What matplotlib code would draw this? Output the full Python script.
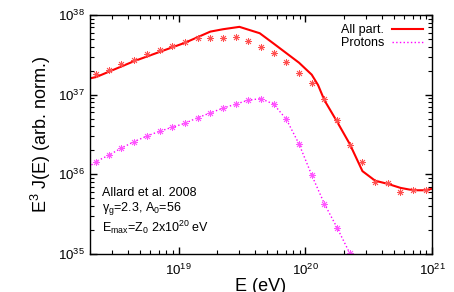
import numpy as np
import matplotlib
matplotlib.use('Agg')
import matplotlib.pyplot as plt
from matplotlib.ticker import LogLocator, NullFormatter

plt.rcParams['font.family'] = ['Liberation Sans', 'DejaVu Sans']
plt.rcParams['mathtext.fontset'] = 'custom'
plt.rcParams['mathtext.rm'] = 'Liberation Sans'
plt.rcParams['mathtext.it'] = 'Liberation Sans'

# log10 of energy (eV) for the points
logE_pts = [18.35, 18.45, 18.55, 18.65, 18.75, 18.85, 18.95, 19.05, 19.15,
            19.25, 19.35, 19.45, 19.55, 19.65, 19.75, 19.85, 19.95, 20.05,
            20.15, 20.25, 20.35, 20.45, 20.55, 20.65, 20.75, 20.85, 20.95]
# log10 of E^3 J(E), all particles (data points)
all_pts = [37.26, 37.31, 37.385, 37.435, 37.51, 37.56, 37.61, 37.66, 37.71,
           37.71, 37.71, 37.72, 37.67, 37.60, 37.52, 37.41, 37.27, 37.15,
           36.95, 36.68, 36.37, 36.16, 35.90, 35.89, 35.78, 35.80, 35.80]
# protons (data points)
prot_pts = [36.16, 36.24, 36.33, 36.41, 36.48, 36.54, 36.59, 36.64, 36.71,
            36.77, 36.83, 36.88, 36.93, 36.95, 36.88, 36.69, 36.38, 35.99,
            35.63, 35.33, 35.01]

# model curve, all particles
logE_all_line = [18.29, 18.35, 18.65, 19.05, 19.25, 19.35, 19.48, 19.64, 19.75,
                 19.85, 19.95, 20.05, 20.10, 20.15, 20.25, 20.35, 20.45, 20.55,
                 20.65, 20.75, 20.85, 20.95, 21.0]
all_line = [37.20, 37.22, 37.42, 37.65, 37.79, 37.82, 37.85, 37.77, 37.64,
            37.52, 37.40, 37.25, 37.12, 36.93, 36.66, 36.38, 36.04, 35.92,
            35.88, 35.83, 35.80, 35.80, 35.82]
# model curve, protons
logE_prot_line = [18.29] + logE_pts[:21]
prot_line = [36.09] + prot_pts

fig = plt.figure(figsize=(4.54, 2.92), dpi=100)
ax = fig.add_axes([0.198, 0.130, 0.754, 0.819])

p = lambda v: 10.0 ** np.array(v)

ax.plot(p(logE_all_line), p(all_line), color='#ff0000', lw=1.5, label='All part.')
ax.plot(p(logE_prot_line), p(prot_line), color='#ff00ff', lw=1.0, ls=':',
        label='Protons')
ax.plot(p(logE_pts), p(all_pts), ls='none', marker=(8, 2, 0), ms=5,
        mec='#ff5050', mew=0.6)
ax.plot(p(logE_pts[:21]), p(prot_pts), ls='none', marker=(8, 2, 0), ms=5,
        mec='#ff55ff', mew=0.6)

ax.set_xscale('log')
ax.set_yscale('log')
ax.set_xlim(2e18, 1e21)
ax.set_ylim(1e35, 1e38)

ax.xaxis.set_major_locator(LogLocator(base=10, numticks=10))
ax.xaxis.set_minor_locator(LogLocator(base=10, subs=np.arange(2, 10), numticks=20))
ax.xaxis.set_minor_formatter(NullFormatter())
ax.yaxis.set_major_locator(LogLocator(base=10, numticks=10))
ax.yaxis.set_minor_locator(LogLocator(base=10, subs=np.arange(2, 10), numticks=20))
ax.yaxis.set_minor_formatter(NullFormatter())
ax.tick_params(which='both', direction='in', top=True, right=True, labelsize=9.5)
ax.tick_params(which='major', length=5, width=1)
ax.tick_params(which='minor', length=3, width=0.8)
ax.tick_params(axis='x', pad=6)
for s in ax.spines.values():
    s.set_linewidth(1.0)

ax.set_xlabel('E (eV)', fontsize=13, labelpad=0)
ax.set_ylabel(r'E$^3$ J(E) (arb. norm.)', fontsize=13, labelpad=4)

ax.text(0.035, 0.257, 'Allard et al. 2008', transform=ax.transAxes,
        fontsize=9, va='center')
ax.text(0.035, 0.19, r'$\gamma_g$=2.3, A$_0$=56', transform=ax.transAxes,
        fontsize=9, va='center')
ax.text(0.035, 0.11, r'E$_{max}$=Z$_0$ 2x10$^{20}$ eV', transform=ax.transAxes,
        fontsize=9, va='center')

ax.legend(loc='upper right', frameon=False, markerfirst=False, fontsize=9,
          handlelength=2.5, handletextpad=0.6, labelspacing=0.05,
          borderaxespad=0.35)

fig.savefig('out.png', dpi=100)
